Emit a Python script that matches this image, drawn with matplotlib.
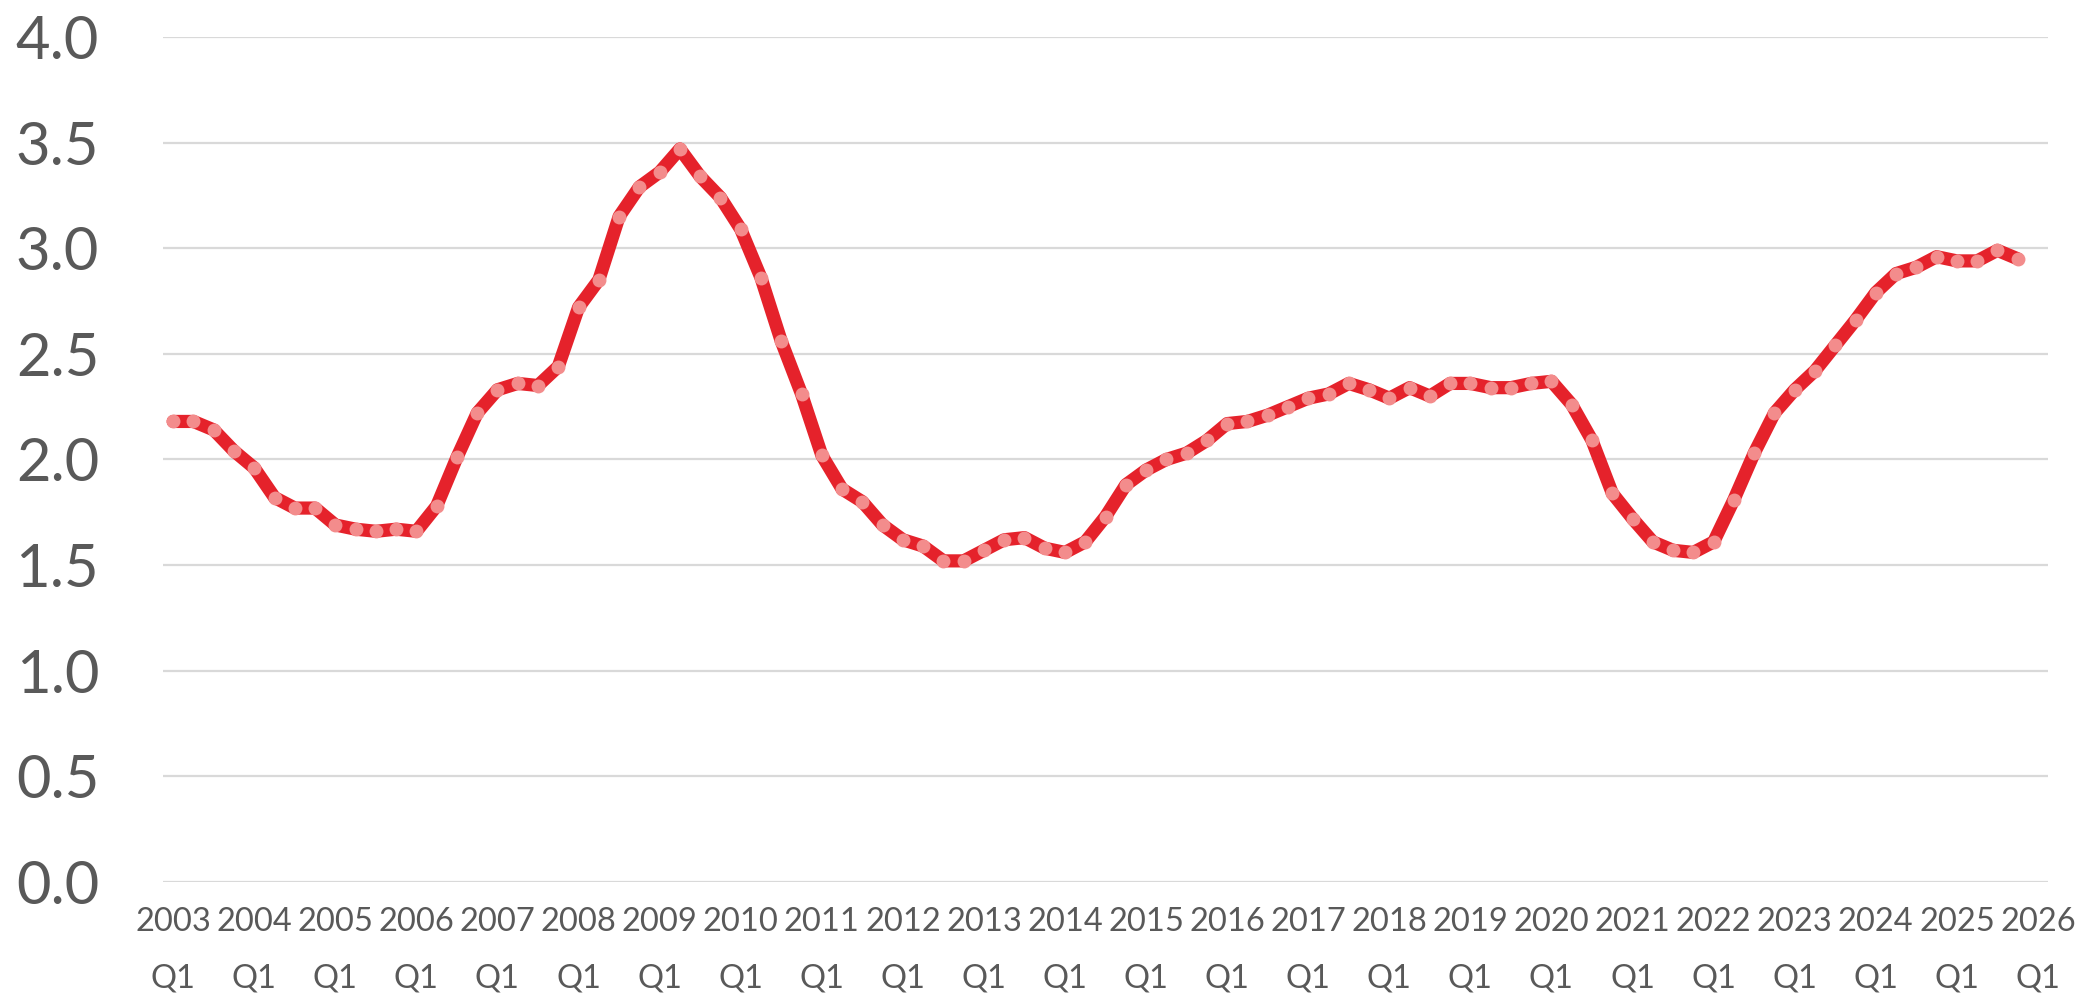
import numpy as np
import matplotlib
matplotlib.use("Agg")
import matplotlib.pyplot as plt

# quarterly categories 2003 Q1 .. 2026 Q1 (last one has no value yet)
years = list(range(2003, 2027))
categories = [f"{y} Q{q}" for y in years for q in range(1, 5)][:93]

values = [
    2.18, 2.18, 2.14, 2.04, 1.96, 1.82, 1.77, 1.77,   # 2003-2004
    1.69, 1.67, 1.66, 1.67, 1.66, 1.78, 2.01, 2.22,   # 2005-2006
    2.33, 2.36, 2.35, 2.44, 2.72, 2.85, 3.15, 3.29,   # 2007-2008
    3.36, 3.47, 3.34, 3.24, 3.09, 2.86, 2.56, 2.31,   # 2009-2010
    2.02, 1.86, 1.80, 1.69, 1.62, 1.59, 1.52, 1.52,   # 2011-2012
    1.57, 1.62, 1.63, 1.58, 1.56, 1.61, 1.73, 1.88,   # 2013-2014
    1.95, 2.00, 2.03, 2.09, 2.17, 2.18, 2.21, 2.25,   # 2015-2016
    2.29, 2.31, 2.36, 2.33, 2.29, 2.34, 2.30, 2.36,   # 2017-2018
    2.36, 2.34, 2.34, 2.36, 2.37, 2.26, 2.09, 1.84,   # 2019-2020
    1.72, 1.61, 1.57, 1.56, 1.61, 1.81, 2.03, 2.22,   # 2021-2022
    2.33, 2.42, 2.54, 2.66, 2.79, 2.88, 2.91, 2.96,   # 2023-2024
    2.94, 2.94, 2.99, 2.95,                           # 2025
]

yticks = [0.0, 0.5, 1.0, 1.5, 2.0, 2.5, 3.0, 3.5, 4.0]

grey = "#595959"

fig = plt.figure(figsize=(20.85, 9.94), dpi=100)
ax = fig.add_axes([0.0782, 0.1127, 0.9041, 0.8501])

x = np.arange(len(values))
ax.plot(x, values, color="#E5222B", lw=9.5, solid_capstyle="round",
        solid_joinstyle="round", zorder=3)
ax.plot(x, values, ls="none", marker="o", ms=10, mfc="#F38C8C",
        mec="none", zorder=4)

ax.set_xlim(-0.5, len(categories) - 0.5)
ax.set_ylim(0, 4)
ax.set_yticks(yticks)
ax.set_yticklabels([f"{v:.1f}" for v in yticks], fontsize=43, color=grey,
                   family="Lato")

tick_pos = [i for i, c in enumerate(categories) if c.endswith("Q1")]
tick_lab = [categories[i].replace(" ", "\n") for i in tick_pos]
ax.set_xticks(tick_pos)
ax.set_xticklabels(tick_lab, fontsize=23.5, color=grey, family="Lato",
                   linespacing=2.1)

ax.tick_params(axis="both", length=0)
ax.tick_params(axis="y", pad=46)
ax.tick_params(axis="x", pad=18)
ax.grid(axis="y", color="#D9D9D9", lw=1.6, zorder=0)
for s in ax.spines.values():
    s.set_visible(False)

fig.savefig("out.png", dpi=100, facecolor="white")
